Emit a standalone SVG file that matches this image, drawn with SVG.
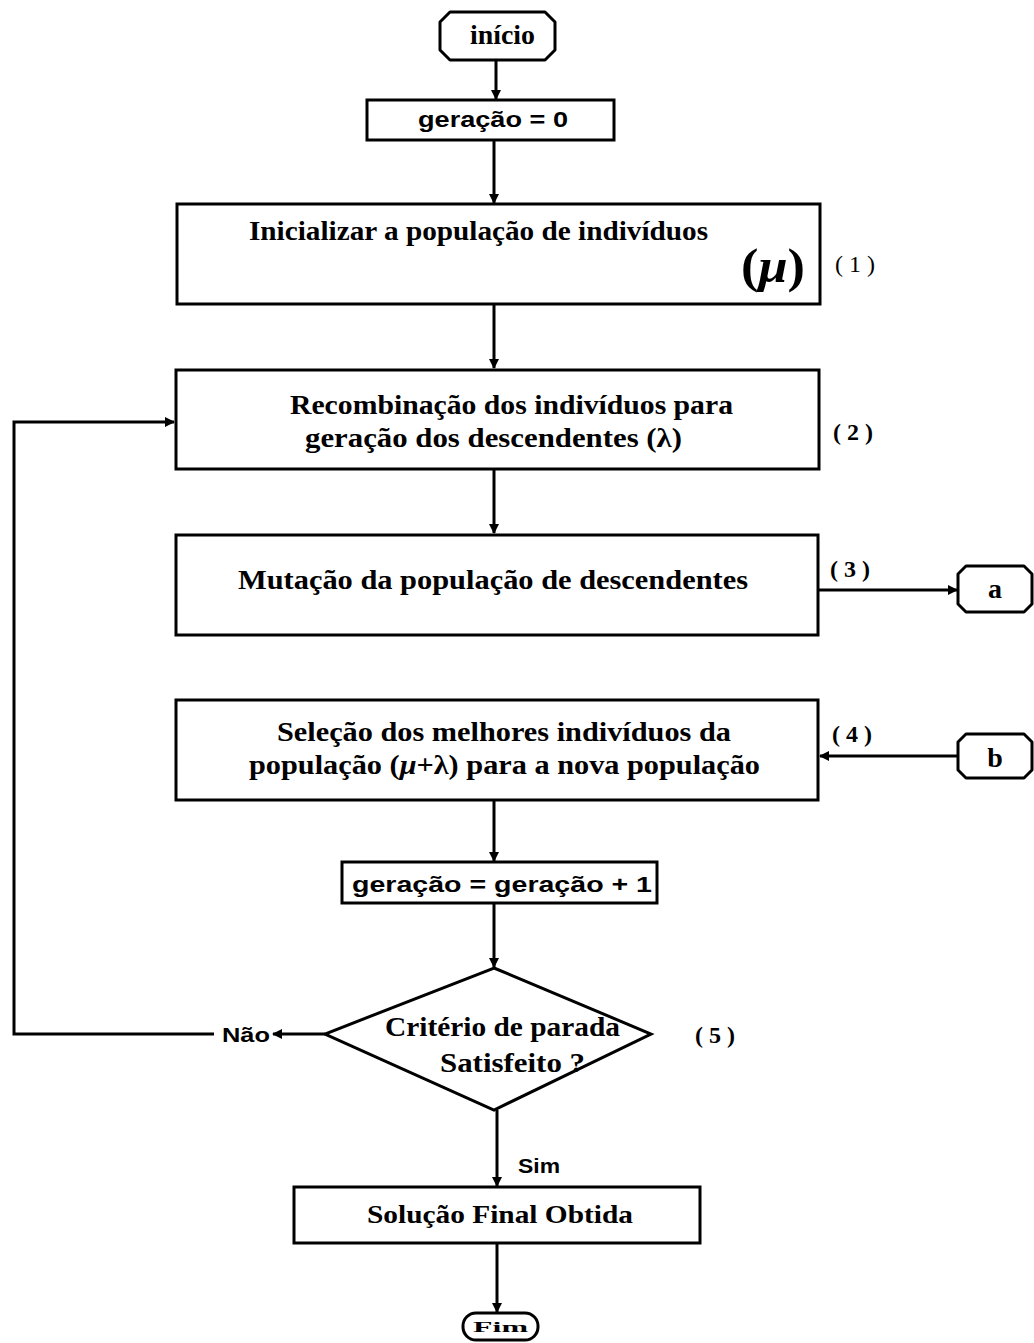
<svg xmlns="http://www.w3.org/2000/svg" width="1034" height="1343" viewBox="0 0 1034 1343">
<defs>
<marker id="ah" markerWidth="10" markerHeight="10" refX="9" refY="5" orient="auto" markerUnits="userSpaceOnUse">
<path d="M0,0 L10,5 L0,10 Z" fill="#000"/>
</marker>
<style>
.box{fill:#fff;stroke:#000;stroke-width:3}
.ln{fill:none;stroke:#000;stroke-width:3}
.sf{font-family:"Liberation Serif","Times New Roman",serif;fill:#000}
.ss{font-family:"Liberation Sans",Arial,sans-serif;fill:#000}
.num{font-family:"Liberation Serif","Times New Roman",serif;fill:#000;font-size:24px;letter-spacing:6px}
</style>
</defs>
<rect width="1034" height="1343" fill="#fff"/>
<g id="connectors">
<line class="ln" x1="496" y1="60" x2="496" y2="99" marker-end="url(#ah)"/>
<line class="ln" x1="494" y1="140" x2="494" y2="203" marker-end="url(#ah)"/>
<line class="ln" x1="494" y1="304" x2="494" y2="368" marker-end="url(#ah)"/>
<line class="ln" x1="494" y1="469" x2="494" y2="533" marker-end="url(#ah)"/>
<line class="ln" x1="818" y1="590" x2="957" y2="590" marker-end="url(#ah)"/>
<line class="ln" x1="958" y1="756" x2="820" y2="756" marker-end="url(#ah)"/>
<line class="ln" x1="494" y1="800" x2="494" y2="861" marker-end="url(#ah)"/>
<line class="ln" x1="494" y1="903" x2="494" y2="967" marker-end="url(#ah)"/>
<line class="ln" x1="325" y1="1034" x2="273" y2="1034" marker-end="url(#ah)"/>
<polyline class="ln" points="214,1034 14,1034 14,422 174,422" marker-end="url(#ah)"/>
<line class="ln" x1="497" y1="1110" x2="497" y2="1186" marker-end="url(#ah)"/>
<line class="ln" x1="497" y1="1243" x2="497" y2="1312" marker-end="url(#ah)"/>
</g>
<g id="inicio">
<path class="box" d="M450,12 L545,12 L555,22 L555,50 L545,60 L450,60 L440,50 L440,22 Z" stroke-linejoin="round"/>
<text class="sf" x="470" y="44" font-size="27" font-weight="bold" textLength="65" lengthAdjust="spacingAndGlyphs">início</text>
</g>
<g id="geracao0">
<rect class="box" x="367" y="100" width="247" height="40"/>
<text class="ss" x="418" y="127" font-size="22" font-weight="bold" textLength="150" lengthAdjust="spacingAndGlyphs">geração = 0</text>
</g>
<g id="step1">
<rect class="box" x="177" y="204" width="643" height="100"/>
<text class="sf" x="249" y="240" font-size="28" font-weight="bold" textLength="459" lengthAdjust="spacingAndGlyphs">Inicializar a população de indivíduos</text>
<text class="sf" x="741" y="282" font-size="48" font-weight="bold" textLength="64" lengthAdjust="spacingAndGlyphs">(<tspan font-style="italic">μ</tspan>)</text>
<text class="num" x="835" y="272">(1)</text>
</g>
<g id="step2">
<rect class="box" x="176" y="370" width="643" height="99"/>
<text class="sf" x="290" y="414" font-size="28" font-weight="bold" textLength="443" lengthAdjust="spacingAndGlyphs">Recombinação dos indivíduos para</text>
<text class="sf" x="305" y="447" font-size="28" font-weight="bold" textLength="377" lengthAdjust="spacingAndGlyphs">geração dos descendentes (λ)</text>
<text class="num" x="833" y="440" font-weight="bold">(2)</text>
</g>
<g id="step3">
<rect class="box" x="176" y="535" width="642" height="100"/>
<text class="sf" x="238" y="589" font-size="28" font-weight="bold" textLength="510" lengthAdjust="spacingAndGlyphs">Mutação da população de descendentes</text>
<text class="num" x="830" y="577" font-weight="bold">(3)</text>
</g>
<g id="conn-a">
<path class="box" d="M966,566 L1024,566 L1032,574 L1032,604 L1024,612 L966,612 L958,604 L958,574 Z" stroke-linejoin="round"/>
<text class="sf" x="995" y="598" font-size="28" font-weight="bold" text-anchor="middle">a</text>
</g>
<g id="step4">
<rect class="box" x="176" y="700" width="642" height="100"/>
<text class="sf" x="277" y="741" font-size="28" font-weight="bold" textLength="454" lengthAdjust="spacingAndGlyphs">Seleção dos melhores indivíduos da</text>
<text class="sf" x="249" y="774" font-size="28" font-weight="bold" textLength="511" lengthAdjust="spacingAndGlyphs">população (<tspan font-style="italic">μ</tspan>+λ) para a nova população</text>
<text class="num" x="832" y="742" font-weight="bold">(4)</text>
</g>
<g id="conn-b">
<path class="box" d="M966,734 L1024,734 L1032,742 L1032,770 L1024,778 L966,778 L958,770 L958,742 Z" stroke-linejoin="round"/>
<text class="sf" x="995" y="767" font-size="28" font-weight="bold" text-anchor="middle">b</text>
</g>
<g id="geracao-inc">
<rect class="box" x="342" y="862" width="315" height="41"/>
<text class="ss" x="352" y="892" font-size="22" font-weight="bold" textLength="300" lengthAdjust="spacingAndGlyphs">geração = geração + 1</text>
</g>
<g id="decision">
<polygon class="box" points="494,968 651,1034 494,1110 325,1034"/>
<text class="sf" x="385" y="1036" font-size="28" font-weight="bold" textLength="235" lengthAdjust="spacingAndGlyphs">Critério de parada</text>
<text class="sf" x="440" y="1072" font-size="28" font-weight="bold" textLength="145" lengthAdjust="spacingAndGlyphs">Satisfeito ?</text>
<text class="num" x="695" y="1043" font-weight="bold">(5)</text>
</g>
<g id="label-nao">
<text class="ss" x="222" y="1042" font-size="20" font-weight="bold" textLength="48" lengthAdjust="spacingAndGlyphs">Não</text>
</g>
<g id="label-sim">
<text class="ss" x="518" y="1173" font-size="20" font-weight="bold" textLength="42" lengthAdjust="spacingAndGlyphs">Sim</text>
</g>
<g id="solucao">
<rect class="box" x="294" y="1187" width="406" height="56"/>
<text class="sf" x="367" y="1223" font-size="25" font-weight="bold" textLength="266" lengthAdjust="spacingAndGlyphs">Solução Final Obtida</text>
</g>
<g id="fim">
<rect class="box" x="463" y="1313" width="75" height="27" rx="13" ry="13"/>
<text class="sf" x="473" y="1332" font-size="15" font-weight="bold" textLength="55" lengthAdjust="spacingAndGlyphs">Fim</text>
</g>
</svg>
